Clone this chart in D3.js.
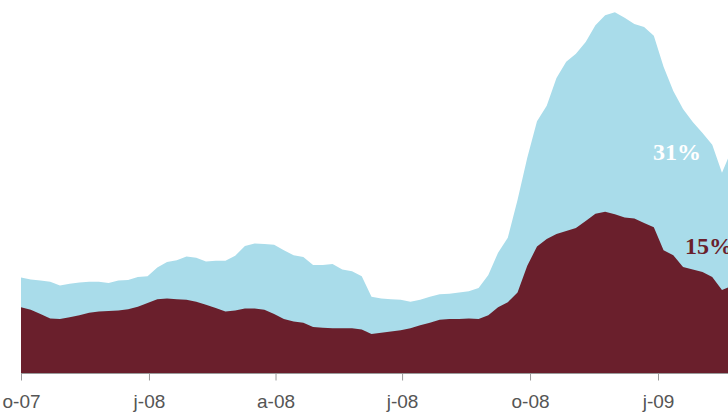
<!DOCTYPE html>
<html>
<head>
<meta charset="utf-8">
<script src="https://cdn.jsdelivr.net/npm/d3@7"></script>
<style>
html,body{margin:0;padding:0;background:#fff;overflow:hidden;}
svg{display:block;}
</style>
</head>
<body>
<svg id="chart" width="728" height="412"></svg>
<script>
// Weekly series starting 1 Oct 2007
const startDate = "2007-10-01";
const upperSeries = [15.4,15.1,14.9,14.7,14.1,14.4,14.6,14.7,14.7,14.5,14.9,15.0,15.5,15.6,17.0,17.9,18.2,18.8,18.6,18.0,
  18.1,18.1,18.9,20.5,20.9,20.8,20.7,19.8,19.0,18.7,17.4,17.4,17.6,16.7,16.4,15.6,12.3,12.0,11.9,11.8,
  11.5,11.8,12.3,12.7,12.8,13.0,13.2,13.7,15.8,19.4,21.8,27.9,34.7,40.6,43.1,47.6,50.2,51.5,53.4,56.1,
  57.7,58.2,57.3,56.3,55.8,54.4,49.4,45.5,42.6,40.5,38.7,36.8,32.3,36.0];
const lowerSeries = [10.6,10.2,9.5,8.8,8.7,9.0,9.3,9.7,9.9,10.0,10.1,10.3,10.7,11.3,11.9,12.0,11.9,11.8,11.5,11.0,
  10.5,9.9,10.1,10.4,10.4,10.2,9.5,8.7,8.3,8.1,7.4,7.3,7.2,7.2,7.2,7.0,6.3,6.5,6.7,6.9,
  7.2,7.7,8.1,8.6,8.7,8.7,8.8,8.7,9.3,10.6,11.4,13.0,17.3,20.4,21.6,22.4,22.9,23.4,24.5,25.7,
  26.0,25.6,25.1,24.9,24.2,23.5,19.8,19.0,17.1,16.7,16.3,15.5,13.4,14.0];
const tickDates = ["2007-10-01","2008-01-01","2008-04-01","2008-07-01","2008-10-01","2009-01-01"];
const tickLabels = ["o-07","j-08","a-08","j-08","o-08","j-09"];
const endLabels = ["31%","15%"];

const parse = d3.timeParse("%Y-%m-%d");
const t0 = parse(startDate);
const dates = upperSeries.map((_, i) => d3.timeDay.offset(t0, 7 * i));

const svg = d3.select("#chart");
const x = d3.scaleTime()
  .domain([parse("2007-10-01"), parse("2009-01-01")])
  .range([21, 658]);
const y = d3.scaleLinear().domain([0, 60]).range([373, 1]);

const blue = "#a9dcea";
const maroon = "#6a1f2c";

const areaUpper = d3.area()
  .x((d, i) => x(dates[i]))
  .y0(y(0))
  .y1(d => y(d));

svg.append("path")
  .datum(upperSeries)
  .attr("fill", blue)
  .attr("d", areaUpper);

svg.append("path")
  .datum(lowerSeries)
  .attr("fill", maroon)
  .attr("d", areaUpper);

const axis = d3.axisBottom(x)
  .tickValues(tickDates.map(parse))
  .tickSize(7)
  .tickPadding(14)
  .tickFormat((d, i) => tickLabels[i]);

const gAxis = svg.append("g")
  .attr("transform", "translate(0,373.5)")
  .call(axis);
gAxis.select(".domain").attr("stroke", "#9a9a9a").attr("d", "M" + x.range()[0] + ",0H728");
gAxis.selectAll(".tick line").attr("stroke", "#9a9a9a");
gAxis.selectAll(".tick text")
  .attr("fill", "#555")
  .style("font-family", "'Liberation Sans', Arial, sans-serif")
  .style("font-size", "19px");

// end labels
const lastUpper = upperSeries.length - 1;
svg.append("text")
  .attr("x", 653)
  .attr("y", 160)
  .attr("fill", "#ffffff")
  .style("font-family", "'Liberation Serif', 'DejaVu Serif', serif")
  .style("font-weight", "bold")
  .style("font-size", "24px")
  .text(endLabels[0]);
svg.append("text")
  .attr("x", 685)
  .attr("y", 254)
  .attr("fill", maroon)
  .style("font-family", "'Liberation Serif', 'DejaVu Serif', serif")
  .style("font-weight", "bold")
  .style("font-size", "24px")
  .text(endLabels[1]);
</script>
</body>
</html>
